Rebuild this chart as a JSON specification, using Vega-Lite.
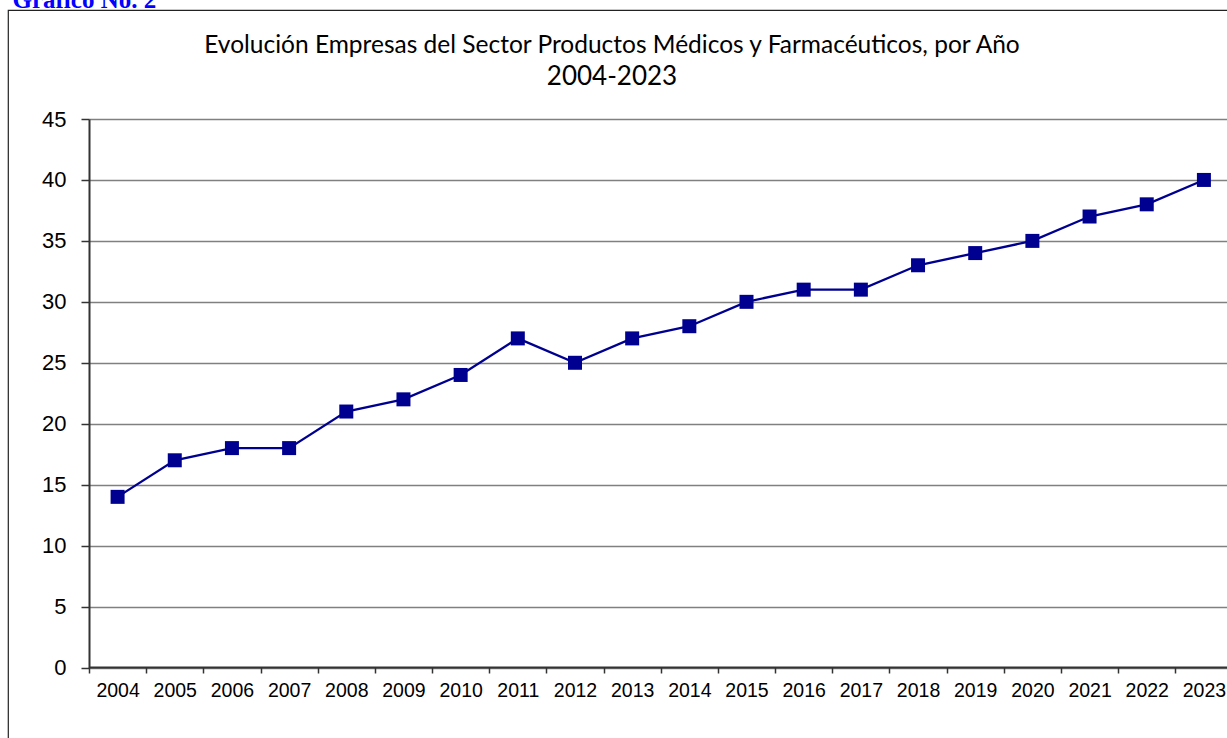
{
  "$schema": "https://vega.github.io/schema/vega-lite/v6.json",
  "autosize": "none",
  "padding": {"left": 8, "top": 10, "right": 0, "bottom": 0},
  "width": 1240,
  "height": 740,
  "background": "white",
  "title": {
    "text": "Evolución Empresas del Sector Productos Médicos y Farmacéuticos, por Año",
    "subtitle": "2004-2023",
    "anchor": "middle",
    "frame": "group",
    "dx": -16,
    "offset": -104,
    "font": "Lato",
    "fontSize": 24.5,
    "fontWeight": "normal",
    "color": "#000000",
    "subtitleFont": "Lato",
    "subtitleFontSize": 26,
    "subtitleColor": "#000000",
    "subtitlePadding": 6
  },
  "data": {
    "values": [
      {"year": "2004", "value": 14},
      {"year": "2005", "value": 17},
      {"year": "2006", "value": 18},
      {"year": "2007", "value": 18},
      {"year": "2008", "value": 21},
      {"year": "2009", "value": 22},
      {"year": "2010", "value": 24},
      {"year": "2011", "value": 27},
      {"year": "2012", "value": 25},
      {"year": "2013", "value": 27},
      {"year": "2014", "value": 28},
      {"year": "2015", "value": 30},
      {"year": "2016", "value": 31},
      {"year": "2017", "value": 31},
      {"year": "2018", "value": 33},
      {"year": "2019", "value": 34},
      {"year": "2020", "value": 35},
      {"year": "2021", "value": 37},
      {"year": "2022", "value": 38},
      {"year": "2023", "value": 40}
    ]
  },
  "mark": {
    "type": "line",
    "color": "#000090",
    "strokeWidth": 2.3,
    "point": {"shape": "square", "size": 196, "filled": true, "color": "#000090", "opacity": 1}
  },
  "encoding": {
    "x": {
      "field": "year",
      "type": "ordinal",
      "scale": {"type": "band", "paddingInner": 0, "paddingOuter": 0, "range": [81, 1224.5]},
      "axis": {
        "title": null,
        "orient": "bottom",
        "offset": -83,
        "labelAngle": 0,
        "labelFont": "Liberation Sans",
        "labelFontSize": 19.5,
        "labelColor": "#000000",
        "labelPadding": 8,
        "tickBand": "extent",
        "tickSize": 6,
        "tickColor": "#333333",
        "tickWidth": 1.5,
        "domainColor": "#333333",
        "domainWidth": 2,
        "grid": false
      }
    },
    "y": {
      "field": "value",
      "type": "quantitative",
      "scale": {"domain": [0, 45], "range": [657.5, 109], "nice": false, "zero": true},
      "axis": {
        "title": "Gráfico No. 2",
        "titleAngle": 0,
        "titleX": -77,
        "titleY": -3,
        "titleAlign": "left",
        "titleBaseline": "alphabetic",
        "titleFont": "Liberation Serif",
        "titleFontSize": 25,
        "titleFontWeight": "bold",
        "titleColor": "#0000ff",
        "offset": -81,
        "values": [0, 5, 10, 15, 20, 25, 30, 35, 40, 45],
        "labelFont": "Liberation Sans",
        "labelFontSize": 22,
        "labelColor": "#000000",
        "labelPadding": 15,
        "tickSize": 8,
        "tickColor": "#333333",
        "tickWidth": 1.5,
        "domainColor": "#333333",
        "domainWidth": 2,
        "grid": true,
        "gridColor": "#808080",
        "gridWidth": 1.5
      }
    }
  },
  "config": {
    "view": {"stroke": "#222222", "strokeWidth": 1.2}
  }
}
